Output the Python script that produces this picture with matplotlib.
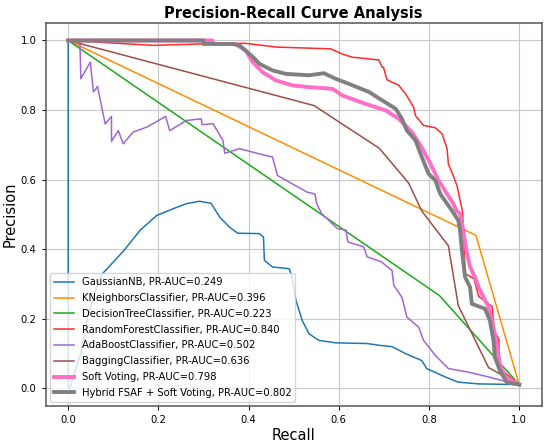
import numpy as np
import matplotlib.pyplot as plt

# recall / precision points
gnb_recall = [0.0, 0.0, 0.004, 0.015, 0.028, 0.043, 0.065, 0.076, 0.09, 0.124, 0.159, 0.196,
              0.232, 0.262, 0.291, 0.317, 0.336, 0.358, 0.376, 0.424, 0.433, 0.435, 0.453,
              0.49, 0.497, 0.505, 0.519, 0.534, 0.556, 0.593, 0.663, 0.689, 0.718, 0.748,
              0.784, 0.795, 0.836, 0.865, 0.91, 1.0]
gnb_precision = [1.0, 0.003, 0.0, 0.05, 0.1, 0.205, 0.30, 0.33, 0.349, 0.397, 0.454, 0.497,
                 0.516, 0.531, 0.538, 0.532, 0.492, 0.463, 0.446, 0.445, 0.435, 0.368, 0.349,
                 0.344, 0.316, 0.253, 0.195, 0.157, 0.138, 0.131, 0.129, 0.124, 0.12, 0.1,
                 0.08, 0.057, 0.033, 0.018, 0.013, 0.011]

knn_recall = [0.0, 0.904, 1.0]
knn_precision = [1.0, 0.44, 0.011]

dt_recall = [0.0, 0.823, 1.0]
dt_precision = [1.0, 0.267, 0.011]

rf_recall = [0.0, 0.19, 0.29, 0.392, 0.462, 0.582, 0.608, 0.63, 0.689, 0.696, 0.699, 0.707,
             0.733, 0.748, 0.766, 0.77, 0.788, 0.814, 0.829, 0.84, 0.843, 0.852, 0.862, 0.869,
             0.874, 0.877, 0.88, 0.9, 0.91, 0.94, 0.945, 0.955, 0.955, 0.968, 1.0]
rf_precision = [1.0, 0.986, 0.99, 0.992, 0.981, 0.976, 0.961, 0.952, 0.944, 0.923, 0.923, 0.887,
                0.871, 0.847, 0.808, 0.784, 0.756, 0.749, 0.732, 0.689, 0.645, 0.617, 0.583, 0.54,
                0.511, 0.45, 0.33, 0.315, 0.265, 0.235, 0.165, 0.14, 0.07, 0.045, 0.011]

ada_recall = [0.0, 0.026, 0.028, 0.049, 0.056, 0.065, 0.082, 0.096, 0.096, 0.111, 0.122, 0.144,
              0.174, 0.203, 0.216, 0.225, 0.262, 0.295, 0.297, 0.321, 0.343, 0.347, 0.38, 0.424,
              0.453, 0.464, 0.497, 0.53, 0.547, 0.551, 0.562, 0.578, 0.597, 0.616, 0.62, 0.655,
              0.663, 0.694, 0.718, 0.722, 0.74, 0.751, 0.777, 0.788, 0.814, 0.843, 0.887, 0.932,
              0.976, 1.0]
ada_precision = [1.0, 0.995, 0.89, 0.938, 0.852, 0.868, 0.76, 0.782, 0.71, 0.741, 0.703, 0.737,
                 0.751, 0.772, 0.782, 0.741, 0.77, 0.775, 0.758, 0.761, 0.713, 0.676, 0.689, 0.674,
                 0.665, 0.612, 0.588, 0.564, 0.559, 0.531, 0.502, 0.483, 0.459, 0.455, 0.421, 0.407,
                 0.378, 0.364, 0.339, 0.296, 0.262, 0.205, 0.176, 0.138, 0.095, 0.057, 0.047, 0.033,
                 0.018, 0.011]

bag_recall = [0.0, 0.545, 0.69, 0.755, 0.784, 0.843, 0.865, 0.932, 1.0]
bag_precision = [1.0, 0.813, 0.69, 0.59, 0.51, 0.41, 0.238, 0.06, 0.011]

soft_recall = [0.0, 0.32, 0.322, 0.37, 0.394, 0.409, 0.431, 0.461, 0.497, 0.534, 0.586, 0.608,
               0.659, 0.704, 0.733, 0.762, 0.784, 0.803, 0.821, 0.84, 0.854, 0.861, 0.869, 0.876,
               0.883, 0.891, 0.902, 0.91, 0.932, 0.943, 0.95, 0.957, 0.968, 1.0]
soft_precision = [1.0, 1.0, 0.99, 0.99, 0.971, 0.938, 0.909, 0.885, 0.871, 0.866, 0.861, 0.842,
                  0.818, 0.799, 0.775, 0.737, 0.693, 0.646, 0.598, 0.559, 0.531, 0.511, 0.502, 0.454,
                  0.397, 0.349, 0.32, 0.291, 0.234, 0.176, 0.128, 0.071, 0.033, 0.011]

hyb_recall = [0.0, 0.3, 0.3, 0.365, 0.38, 0.41, 0.424, 0.453, 0.483, 0.534, 0.567, 0.593, 0.623,
              0.667, 0.696, 0.726, 0.74, 0.751, 0.77, 0.784, 0.799, 0.814, 0.825, 0.84, 0.851,
              0.865, 0.869, 0.873, 0.88, 0.891, 0.895, 0.924, 0.935, 0.943, 0.946, 0.957, 0.972,
              1.0]
hyb_precision = [1.0, 1.0, 0.99, 0.99, 0.986, 0.952, 0.933, 0.914, 0.904, 0.9, 0.906, 0.89, 0.875,
                 0.852, 0.828, 0.804, 0.775, 0.741, 0.713, 0.665, 0.617, 0.598, 0.559, 0.531, 0.511,
                 0.483, 0.454, 0.397, 0.32, 0.291, 0.243, 0.229, 0.195, 0.138, 0.09, 0.052, 0.018,
                 0.011]

labels = ['GaussianNB, PR-AUC=0.249',
          'KNeighborsClassifier, PR-AUC=0.396',
          'DecisionTreeClassifier, PR-AUC=0.223',
          'RandomForestClassifier, PR-AUC=0.840',
          'AdaBoostClassifier, PR-AUC=0.502',
          'BaggingClassifier, PR-AUC=0.636',
          'Soft Voting, PR-AUC=0.798',
          'Hybrid FSAF + Soft Voting, PR-AUC=0.802']


def main():
    fig = plt.figure(figsize=(5.5, 4.44), dpi=100)
    ax = fig.add_axes([0.083, 0.086, 0.902, 0.862])

    curves = [
        (gnb_recall, gnb_precision, '#1f77b4', 1.1),
        (knn_recall, knn_precision, '#ff8c00', 1.1),
        (dt_recall, dt_precision, '#1aaa1a', 1.1),
        (rf_recall, rf_precision, '#ff2a2a', 1.1),
        (ada_recall, ada_precision, '#a066d3', 1.1),
        (bag_recall, bag_precision, '#9c4f45', 1.1),
        (soft_recall, soft_precision, '#ff6ec7', 2.8),
        (hyb_recall, hyb_precision, '#808080', 2.8),
    ]
    for (r, p, c, lw), lab in zip(curves, labels):
        ax.plot(r, p, color=c, linewidth=lw, label=lab)

    ax.set_xticks(np.arange(0, 1.01, 0.2))
    ax.set_yticks(np.arange(0, 1.01, 0.2))
    ax.tick_params(labelsize=7.2, length=3, width=0.7)
    ax.grid(True, color='#c8c8c8', linewidth=0.8)
    for s in ax.spines.values():
        s.set_color('#555555')
        s.set_linewidth(1.1)

    ax.set_xlabel('Recall', fontsize=10.5, labelpad=2)
    ax.set_ylabel('Precision', fontsize=10.5, labelpad=2)
    ax.set_title('Precision-Recall Curve Analysis', fontsize=10.5, fontweight='bold', pad=4)
    ax.legend(loc='lower left', fontsize=7.2, handlelength=2.0, labelspacing=0.58,
              borderaxespad=0.4)

    fig.savefig('out.png', dpi=100)
    plt.close(fig)


if __name__ == '__main__':
    main()
